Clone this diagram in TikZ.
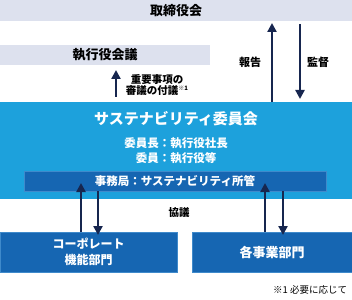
\documentclass[tikz,border=0pt]{standalone}
\usepackage{fontspec}
\newfontfamily\jp{Noto Sans CJK JP}
\usetikzlibrary{arrows.meta}
\definecolor{graybox}{HTML}{DDE1EE}
\definecolor{lightblue}{HTML}{1DA1DC}
\definecolor{darkblue}{HTML}{1666B2}
\definecolor{edgeblue}{HTML}{3F8ACB}
\definecolor{navy}{HTML}{17264F}
\begin{document}
\begin{tikzpicture}[x=1pt,y=-1pt,
  every node/.style={font=\jp, inner sep=0pt, outer sep=0pt},
  graybx/.style={fill=graybox, anchor=north west, text=black},
  bluebx/.style={fill=darkblue, draw=edgeblue, line width=0.8pt, anchor=north west, text=white, align=center},
  arr/.style={draw=navy, line width=2.6pt, -{Triangle[length=9pt,width=9pt]}},
  lbl/.style={text=black, align=center}
]
\useasboundingbox (0,0) rectangle (352,299);
% boxes
\node[graybx, minimum width=352pt, minimum height=21pt, font=\jp\bfseries\fontsize{13}{15}\selectfont] (board) at (0,0) {取締役会};
\node[graybx, minimum width=210pt, minimum height=20pt, font=\jp\bfseries\fontsize{13}{15}\selectfont] (exec) at (0,45) {執行役会議};
\node[fill=lightblue, anchor=north west, minimum width=352pt, minimum height=97pt] (comm) at (0,102) {};
\node[text=white, font=\jp\bfseries\fontsize{15}{17}\selectfont] (commtitle) at (176,119) {サステナビリティ委員会};
\node[text=white, font=\jp\bfseries\fontsize{11.5}{13}\selectfont] (chair) at (176,143) {委員長：執行役社長};
\node[text=white, font=\jp\bfseries\fontsize{11.5}{13}\selectfont] (members) at (176,158) {委員：執行役等};
\node[fill=darkblue, draw=edgeblue, line width=0.6pt, anchor=north west, minimum width=302pt, minimum height=20pt, text=white, font=\jp\bfseries\fontsize{11.5}{13}\selectfont] (office) at (24,171) {事務局：サステナビリティ所管};
\node[bluebx, minimum width=177pt, minimum height=40pt, font=\jp\bfseries\fontsize{12}{16}\selectfont] (corp) at (0,232) {コーポレート\\機能部門};
\node[bluebx, minimum width=160pt, minimum height=40pt, font=\jp\bfseries\fontsize{13}{15}\selectfont] (biz) at (192,232) {各事業部門};
% arrows
\draw[arr, shorten >=2pt] ([xshift=272pt]comm.north west) -- ([xshift=272pt]board.south west);
\draw[arr, shorten <=3pt, shorten >=3pt] ([xshift=300pt]board.south west) -- ([xshift=300pt]comm.north west);
\draw[arr, shorten <=5pt, shorten >=5pt] ([xshift=116pt]comm.north west) -- ([xshift=116pt]exec.south west);
\draw[arr] ([xshift=81pt]corp.north west) -- ([xshift=57pt,yshift=8pt]office.south west);
\draw[arr] ([xshift=74pt]office.south west) -- ([xshift=98pt,yshift=-3pt]corp.north west);
\draw[arr] ([xshift=73pt]biz.north west) -- ([xshift=241pt,yshift=8pt]office.south west);
\draw[arr] ([xshift=259pt]office.south west) -- ([xshift=91pt,yshift=-3pt]biz.north west);
% labels
\node[lbl, font=\jp\bfseries\fontsize{11}{13}\selectfont] (report) at (250,62) {報告};
\node[lbl, font=\jp\bfseries\fontsize{11}{13}\selectfont] (audit) at (318,62) {監督};
\node[lbl, font=\jp\bfseries\fontsize{10.5}{11.5}\selectfont] (agenda) at (157,85) {重要事項の\\審議の付議\raisebox{0.45em}{\fontsize{6}{6}\selectfont ※1}};
\node[lbl, font=\jp\bfseries\fontsize{10.5}{12}\selectfont] (consult) at (179,213) {協議};
\node[lbl, anchor=east, font=\jp\fontsize{9.5}{11}\selectfont] (note) at (347,290) {※1 必要に応じて};
\end{tikzpicture}
\end{document}
